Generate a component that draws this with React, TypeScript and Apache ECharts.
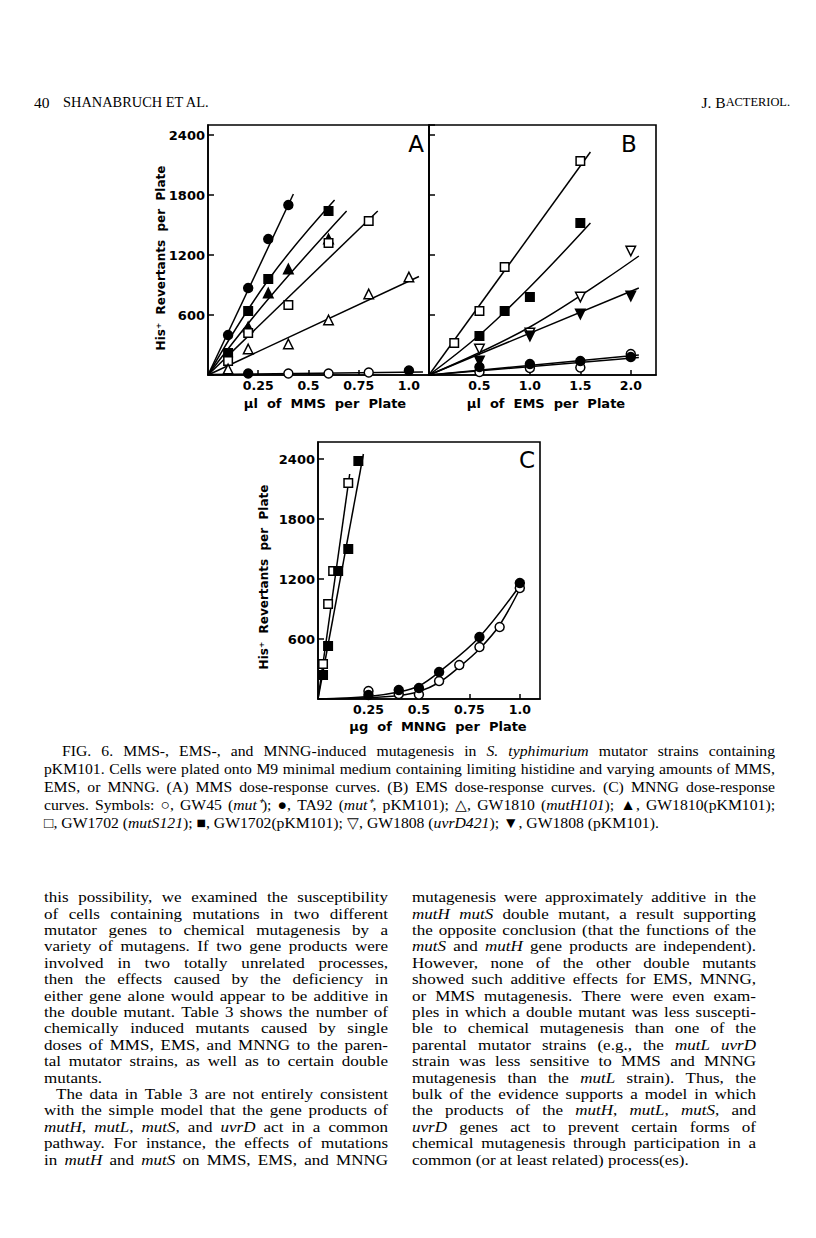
import React, { useEffect, useRef } from "react";
import * as echarts from "echarts";

// ---------- Panel A: MMS (µl per plate) ----------
const mmsDoseTA92 = [0.1, 0.2, 0.3, 0.4];
const mmsTA92 = [400, 870, 1360, 1700];
const mmsDoseGW1702pKM = [0.1, 0.2, 0.3, 0.6];
const mmsGW1702pKM = [220, 640, 960, 1640];
const mmsDoseGW1810pKM = [0.2, 0.3, 0.4, 0.6];
const mmsGW1810pKM = [480, 820, 1060, 1360];
const mmsDoseGW1702 = [0.1, 0.2, 0.4, 0.6, 0.8];
const mmsGW1702 = [140, 420, 700, 1320, 1540];
const mmsDoseGW1810 = [0.1, 0.2, 0.4, 0.6, 0.8, 1.0];
const mmsGW1810 = [60, 260, 310, 550, 810, 980];
const mmsDoseGW45 = [0.2, 0.4, 0.6, 0.8, 1.0];
const mmsGW45 = [15, 15, 15, 25, 45];
const mmsGW45FilledIdx = [0, 4];

const mmsFitTA92 = [[0, 0], [0.425, 1810]];
const mmsFitGW1702pKM = [[0, 0], [0.3, 950], [0.63, 1750]];
const mmsFitGW1810pKM = [[0, 0], [0.3, 760], [0.69, 1640]];
const mmsFitGW1702 = [[0, 0], [0.845, 1640]];
const mmsFitGW1810 = [[0, 0], [1.05, 985]];
const mmsFitGW45 = [[0, 5], [1.07, 30]];

// ---------- Panel B: EMS (µl per plate) ----------
const emsDoseGW1702 = [0.25, 0.5, 0.75, 1.5];
const emsGW1702 = [320, 640, 1080, 2140];
const emsDoseGW1702pKM = [0.5, 0.75, 1.0, 1.5];
const emsGW1702pKM = [390, 640, 780, 1520];
const emsDoseGW1808 = [0.5, 1.0, 1.5, 2.0];
const emsGW1808 = [260, 420, 780, 1240];
const emsDoseGW1808pKM = [0.5, 1.0, 1.5, 2.0];
const emsGW1808pKM = [140, 390, 610, 790];
const emsDoseTA92 = [0.5, 1.0, 1.5, 2.0];
const emsTA92 = [80, 110, 140, 180];
const emsDoseGW45 = [0.5, 1.0, 1.5, 2.0];
const emsGW45 = [30, 70, 75, 210];

const emsFitGW1702 = [[0, 0], [1.6, 2230]];
const emsFitGW1702pKM = [[0, 0], [0.5, 400], [1.0, 880], [1.6, 1520]];
const emsFitGW1808 = [[0, 0], [1.0, 480], [2.08, 1190]];
const emsFitGW1808pKM = [[0, 0], [2.08, 870]];
const emsFitTA92 = [[0, 0], [2.08, 200]];
const emsFitGW45 = [[0, 0], [2.08, 175]];

// ---------- Panel C: MNNG (µg per plate) ----------
const mnngDoseGW1702 = [0.025, 0.05, 0.075, 0.15];
const mnngGW1702 = [350, 950, 1280, 2160];
const mnngDoseGW1702pKM = [0.025, 0.05, 0.1, 0.15, 0.2];
const mnngGW1702pKM = [240, 530, 1280, 1500, 2380];
const mnngDoseTA92 = [0.25, 0.4, 0.5, 0.6, 0.8, 1.0];
const mnngTA92 = [40, 90, 110, 270, 620, 1160];
const mnngDoseGW45 = [0.25, 0.4, 0.5, 0.6, 0.7, 0.8, 0.9, 1.0];
const mnngGW45 = [80, 50, 45, 180, 340, 520, 720, 1110];

const mnngFitGW1702 = [[0, 0], [0.157, 2250]];
const mnngFitGW1702pKM = [[0, 0], [0.225, 2450]];
const mnngFitTA92 = [[0, 0], [0.25, 25], [0.4, 70], [0.5, 130], [0.6, 270], [0.8, 620], [1.02, 1190]];
const mnngFitGW45 = [[0, 0], [0.25, 12], [0.4, 35], [0.5, 75], [0.6, 165], [0.7, 320], [0.8, 500], [0.9, 740], [1.01, 1140]];

// ---------- Tick labels / axis titles ----------
const yAxisTitle = "His\u207A  Revertants  per  Plate";
const xTitleA = "\u00B5l  of  MMS  per  Plate";
const xTitleB = "\u00B5l  of  EMS  per  Plate";
const xTitleC = "\u00B5g  of  MNNG  per  Plate";
const panelLetters = ["A", "B", "C"];

// ---------- Page texts ----------
const headerPage = "40";
const headerAuthors = "SHANABRUCH ET AL.";
const headerJournalA = "J. B";
const headerJournalB = "ACTERIOL.";

const captionLines = [
  "FIG. 6. MMS-, EMS-, and MNNG-induced mutagenesis in _S. typhimurium_ mutator strains containing",
  "pKM101. Cells were plated onto M9 minimal medium containing limiting histidine and varying amounts of MMS,",
  "EMS, or MNNG. (A) MMS dose-response curves. (B) EMS dose-response curves. (C) MNNG dose-response",
  "curves. Symbols: \u25CB, GW45 (_mut\u207A_); \u25CF, TA92 (_mut\u207A_, pKM101); \u25B3, GW1810 (_mutH101_); \u25B2, GW1810(pKM101);",
  "\u25A1, GW1702 (_mutS121_); \u25A0, GW1702(pKM101); \u25BD, GW1808 (_uvrD421_); \u25BC, GW1808 (pKM101).",
];

const leftColumn = [
  "this possibility, we examined the susceptibility",
  "of cells containing mutations in two different",
  "mutator genes to chemical mutagenesis by a",
  "variety of mutagens. If two gene products were",
  "involved in two totally unrelated processes,",
  "then the effects caused by the deficiency in",
  "either gene alone would appear to be additive in",
  "the double mutant. Table 3 shows the number of",
  "chemically induced mutants caused by single",
  "doses of MMS, EMS, and MNNG to the paren-",
  "tal mutator strains, as well as to certain double",
  "mutants.",
  "The data in Table 3 are not entirely consistent",
  "with the simple model that the gene products of",
  "_mutH_, _mutL_, _mutS_, and _uvrD_ act in a common",
  "pathway. For instance, the effects of mutations",
  "in _mutH_ and _mutS_ on MMS, EMS, and MNNG",
];
const leftLastLines = [11];
const leftIndentLines = [12];

const rightColumn = [
  "mutagenesis were approximately additive in the",
  "_mutH mutS_ double mutant, a result supporting",
  "the opposite conclusion (that the functions of the",
  "_mutS_ and _mutH_ gene products are independent).",
  "However, none of the other double mutants",
  "showed such additive effects for EMS, MNNG,",
  "or MMS mutagenesis. There were even exam-",
  "ples in which a double mutant was less suscepti-",
  "ble to chemical mutagenesis than one of the",
  "parental mutator strains (e.g., the _mutL uvrD_",
  "strain was less sensitive to MMS and MNNG",
  "mutagenesis than the _mutL_ strain). Thus, the",
  "bulk of the evidence supports a model in which",
  "the products of the _mutH_, _mutL_, _mutS_, and",
  "_uvrD_ genes act to prevent certain forms of",
  "chemical mutagenesis through participation in a",
  "common (or at least related) process(es).",
];
const rightLastLines = [16];

const SERIF = "Liberation Serif";
const SANS = "DejaVu Sans";
const INK = "#000";

type Piece = { t: string; it: boolean };

function parseWords(s: string): Piece[][] {
  const words: Piece[][] = [];
  let cur: Piece[] = [];
  let it = false;
  let buf = "";
  const flush = () => {
    if (buf) {
      cur.push({ t: buf, it });
      buf = "";
    }
  };
  for (const ch of s) {
    if (ch === "_") {
      flush();
      it = !it;
    } else if (ch === " ") {
      flush();
      if (cur.length) {
        words.push(cur);
        cur = [];
      }
    } else buf += ch;
  }
  flush();
  if (cur.length) words.push(cur);
  return words;
}

let measureCtx: CanvasRenderingContext2D | null = null;
function measure(text: string, size: number, it: boolean) {
  if (!measureCtx) measureCtx = document.createElement("canvas").getContext("2d");
  measureCtx!.font = `${it ? "italic " : ""}normal ${size}px "${SERIF}"`;
  return measureCtx!.measureText(text).width;
}

// Lays out one justified line word by word; hs = horizontal stretch of the glyphs
function layoutLine(line: string, x0: number, x1: number, y: number, size: number, justify: boolean, hs = 1) {
  const words = parseWords(line);
  const widths = words.map((w) => w.reduce((s, p) => s + measure(p.t, size, p.it) * hs, 0));
  const total = widths.reduce((a, b) => a + b, 0);
  const space = measure(" ", size, false) * hs;
  const n = words.length - 1;
  let gap = space;
  let scale = 1;
  const avail = x1 - x0;
  if (justify && n > 0) {
    gap = (avail - total) / n;
    if (gap < space * 0.6) {
      gap = space * 0.6;
      scale = avail / (total + n * gap);
      gap *= scale;
    }
  }
  const els: any[] = [];
  let x = x0;
  words.forEach((w, i) => {
    let px = x;
    w.forEach((p) => {
      els.push({
        type: "text",
        x: px,
        y,
        scaleX: scale * hs,
        silent: true,
        style: {
          text: p.t,
          fontFamily: SERIF,
          fontSize: size,
          fontStyle: p.it ? "italic" : "normal",
          fill: INK,
          align: "left",
          verticalAlign: "middle",
        },
      });
      px += measure(p.t, size, p.it) * hs * scale;
    });
    x += widths[i] * scale + gap;
  });
  return els;
}

function scatter(g: number, xs: number[], ys: number[], symbol: string, filled: boolean, rotate = 0, filledIdx: number[] = []) {
  const size = symbol === "circle" ? 9 : symbol === "rect" ? 8.5 : 9.5;
  return {
    type: "scatter",
    xAxisIndex: g,
    yAxisIndex: g,
    symbol,
    symbolSize: size,
    symbolRotate: rotate,
    z: 5,
    data: xs.map((x, i) => ({
      value: [x, ys[i]],
      itemStyle: filledIdx.includes(i) ? { color: "#000" } : undefined,
    })),
    itemStyle: { color: filled ? "#000" : "#fff", borderColor: "#000", borderWidth: 1.5, opacity: 1 },
  };
}

function fit(g: number, pts: number[][], smooth: number | boolean = false) {
  return {
    type: "line",
    xAxisIndex: g,
    yAxisIndex: g,
    data: pts,
    symbol: "none",
    showSymbol: false,
    smooth,
    z: 3,
    lineStyle: { color: "#000", width: 1.5 },
  };
}

const tickFmt = (v: number) => (v === 0 ? "" : Number.isInteger(v) ? v.toFixed(1) : String(v));

function xAxis(g: number, max: number, interval: number) {
  return {
    gridIndex: g,
    type: "value",
    min: 0,
    max,
    interval,
    axisLine: { show: true, onZero: false, lineStyle: { color: "#000", width: 1.6 } },
    axisTick: { show: true, inside: true, length: 5, lineStyle: { color: "#000", width: 1.5 } },
    splitLine: { show: false },
    axisLabel: {
      show: true,
      formatter: tickFmt,
      showMaxLabel: false,
      showMinLabel: false,
      margin: 4,
      color: "#000",
      fontFamily: SANS,
      fontWeight: "bold",
      fontSize: 12.5,
    },
  };
}

function yAxis(g: number, max: number, labels: boolean) {
  return {
    gridIndex: g,
    type: "value",
    min: 0,
    max,
    interval: 600,
    axisLine: { show: true, onZero: false, lineStyle: { color: "#000", width: 1.6 } },
    axisTick: { show: true, inside: true, length: 6, lineStyle: { color: "#000", width: 1.5 } },
    splitLine: { show: false },
    axisLabel: {
      show: labels,
      formatter: (v: number) => (v === 0 ? "" : String(v)),
      showMaxLabel: false,
      margin: 3,
      color: "#000",
      fontFamily: SANS,
      fontWeight: "bold",
      fontSize: 13,
    },
  };
}

function sansText(text: string, x: number, y: number, size: number, rotation = 0, weight = "bold") {
  return {
    type: "text",
    x,
    y,
    rotation,
    silent: true,
    style: {
      text,
      fontFamily: SANS,
      fontSize: size,
      fontWeight: weight,
      fill: "#000",
      align: "center",
      verticalAlign: "middle",
    },
  };
}

function buildOption() {
  const graphics: any[] = [];

  // header
  graphics.push({
    type: "text", x: 34, y: 102, silent: true,
    style: { text: headerPage, fontFamily: SERIF, fontSize: 15.5, fill: INK, align: "left", verticalAlign: "middle" },
  });
  graphics.push({
    type: "text", x: 63, y: 102, silent: true,
    style: { text: headerAuthors, fontFamily: SERIF, fontSize: 14.4, fill: INK, align: "left", verticalAlign: "middle" },
  });
  graphics.push({
    type: "text", x: 790, y: 102, silent: true,
    style: {
      text: `{a|${headerJournalA}}{b|${headerJournalB}}`,
      align: "right",
      verticalAlign: "middle",
      rich: {
        a: { fontFamily: SERIF, fontSize: 15.5, fill: INK, color: INK },
        b: { fontFamily: SERIF, fontSize: 12.4, fill: INK, color: INK },
      },
    },
  });

  // axis titles and panel letters
  graphics.push(sansText(yAxisTitle, 161, 258, 12, Math.PI / 2));
  graphics.push(sansText(yAxisTitle, 264, 577, 12, Math.PI / 2));
  graphics.push(sansText(xTitleA, 325, 403, 13));
  graphics.push(sansText(xTitleB, 546, 403, 13));
  graphics.push(sansText(xTitleC, 438, 726, 13));
  graphics.push(sansText(panelLetters[0], 416, 144, 23, 0, "normal"));
  graphics.push(sansText(panelLetters[1], 629, 144, 23, 0, "normal"));
  graphics.push(sansText(panelLetters[2], 527, 460, 23, 0, "normal"));

  // caption
  captionLines.forEach((ln, i) => {
    const last = i === captionLines.length - 1;
    graphics.push(...layoutLine(ln, i === 0 ? 62 : 44, 775, 751 + i * 18, 15.4, !last, 1.02));
  });

  // body columns
  const step = 16.4;
  const bodySize = 15.2;
  const bodyStretch = 1.12;
  leftColumn.forEach((ln, i) => {
    const x0 = leftIndentLines.includes(i) ? 56 : 44;
    graphics.push(...layoutLine(ln, x0, 388, 897 + i * step, bodySize, !leftLastLines.includes(i), bodyStretch));
  });
  rightColumn.forEach((ln, i) => {
    graphics.push(...layoutLine(ln, 412, 756, 897 + i * step, bodySize, !rightLastLines.includes(i), bodyStretch));
  });

  const gridStyle = { show: true, borderColor: "#000", borderWidth: 1.6, backgroundColor: "transparent", containLabel: false };

  return {
    animation: false,
    backgroundColor: "#fff",
    grid: [
      { ...gridStyle, left: 208, top: 125, width: 221, height: 250 },
      { ...gridStyle, left: 429, top: 125, width: 227, height: 250 },
      { ...gridStyle, left: 318, top: 442, width: 222, height: 257 },
    ],
    xAxis: [xAxis(0, 1.1, 0.25), xAxis(1, 2.25, 0.5), xAxis(2, 1.1, 0.25)],
    yAxis: [yAxis(0, 2500, true), yAxis(1, 2500, false), yAxis(2, 2570, true)],
    series: [
      // A
      fit(0, mmsFitTA92),
      fit(0, mmsFitGW1702pKM, 0.4),
      fit(0, mmsFitGW1810pKM, 0.4),
      fit(0, mmsFitGW1702),
      fit(0, mmsFitGW1810),
      fit(0, mmsFitGW45),
      scatter(0, mmsDoseTA92, mmsTA92, "circle", true),
      scatter(0, mmsDoseGW1702pKM, mmsGW1702pKM, "rect", true),
      scatter(0, mmsDoseGW1810pKM, mmsGW1810pKM, "triangle", true),
      scatter(0, mmsDoseGW1702, mmsGW1702, "rect", false),
      scatter(0, mmsDoseGW1810, mmsGW1810, "triangle", false),
      scatter(0, mmsDoseGW45, mmsGW45, "circle", false, 0, mmsGW45FilledIdx),
      // B
      fit(1, emsFitGW1702),
      fit(1, emsFitGW1702pKM, 0.4),
      fit(1, emsFitGW1808, 0.4),
      fit(1, emsFitGW1808pKM),
      fit(1, emsFitTA92),
      fit(1, emsFitGW45),
      scatter(1, emsDoseGW1702, emsGW1702, "rect", false),
      scatter(1, emsDoseGW1702pKM, emsGW1702pKM, "rect", true),
      scatter(1, emsDoseGW1808, emsGW1808, "triangle", false, 180),
      scatter(1, emsDoseGW1808pKM, emsGW1808pKM, "triangle", true, 180),
      scatter(1, emsDoseGW45, emsGW45, "circle", false),
      scatter(1, emsDoseTA92, emsTA92, "circle", true),
      // C
      fit(2, mnngFitGW1702),
      fit(2, mnngFitGW1702pKM),
      fit(2, mnngFitTA92, 0.35),
      fit(2, mnngFitGW45, 0.35),
      scatter(2, mnngDoseGW1702, mnngGW1702, "rect", false),
      scatter(2, mnngDoseGW1702pKM, mnngGW1702pKM, "rect", true),
      scatter(2, mnngDoseGW45, mnngGW45, "circle", false),
      scatter(2, mnngDoseTA92, mnngTA92, "circle", true),
    ],
    graphic: { elements: graphics },
  };
}

export default function App() {
  const ref = useRef<HTMLDivElement>(null);
  useEffect(() => {
    if (!ref.current) return;
    const chart = echarts.init(ref.current, undefined, { renderer: "svg" });
    chart.setOption(buildOption() as any);
    return () => chart.dispose();
  }, []);
  return (
    <div
      ref={ref}
      style={{ position: "absolute", left: 0, top: 0, width: 816, height: 1238, background: "#fff" }}
    />
  );
}
